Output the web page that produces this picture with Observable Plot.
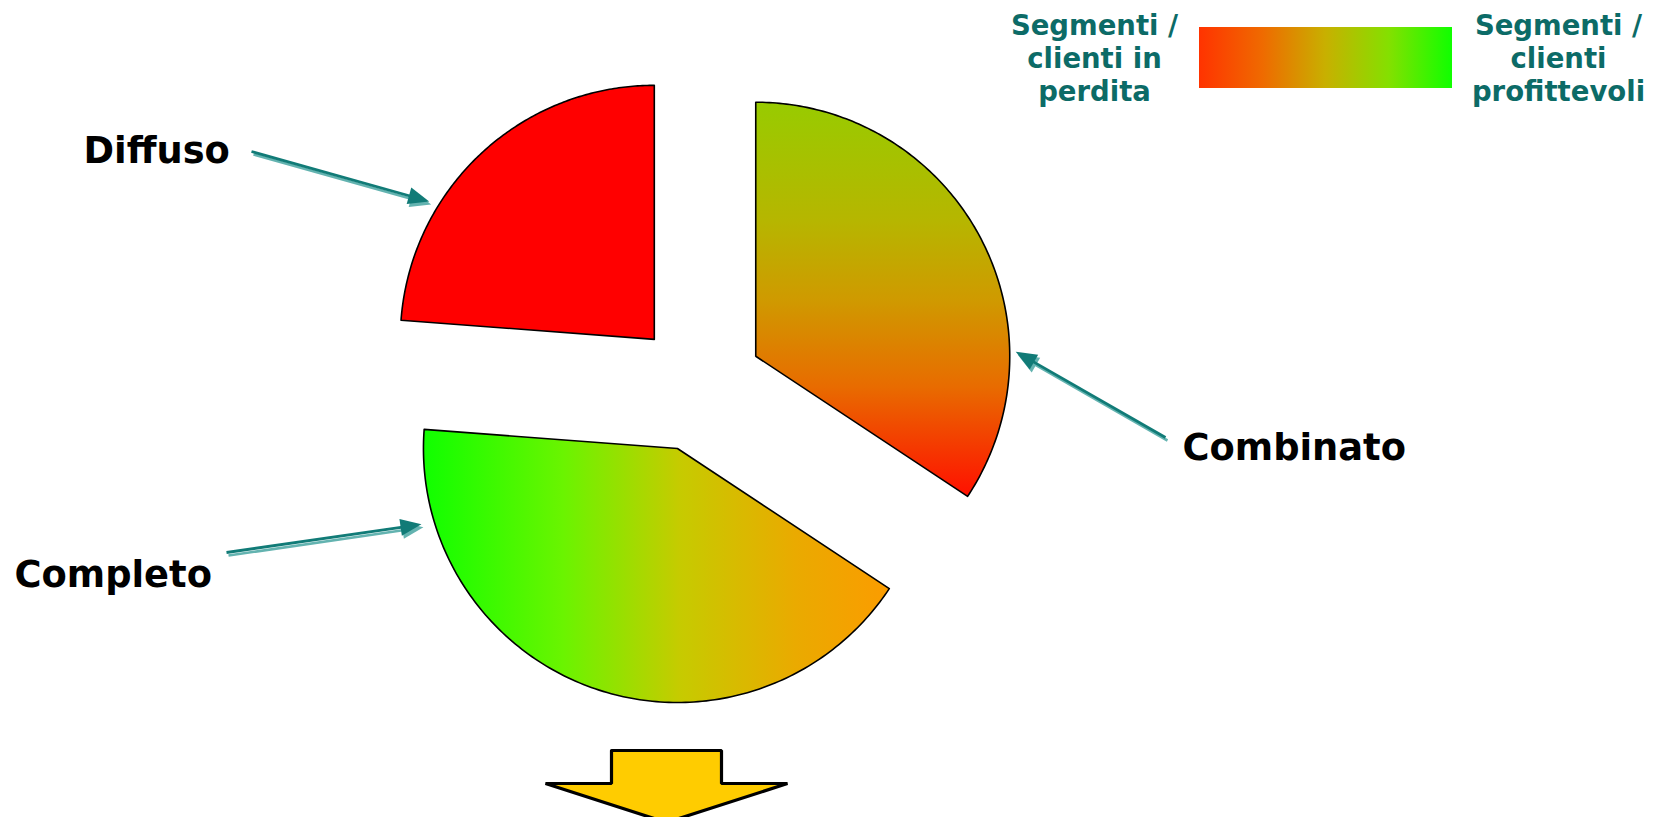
<!DOCTYPE html>
<html>
<head>
<meta charset="utf-8">
<script src="https://cdn.jsdelivr.net/npm/d3@7"></script>
<script src="https://cdn.jsdelivr.net/npm/@observablehq/plot@0.6"></script>
<style>
  html, body { margin: 0; padding: 0; background: #fff; overflow: hidden; }
</style>
</head>
<body>
<div id="chart"></div>
<script>
// Customer segments and their share of the pie (percent)
const segments = ["Combinato", "Completo", "Diffuso"];
const shares = [34.3, 41.9, 23.8];

// Legend captions at the two ends of the profitability scale
const legendLow = ["Segmenti /", "clienti in", "perdita"];
const legendHigh = ["Segmenti /", "clienti", "profittevoli"];

// ---- layout ----
const W = 1661, H = 817;
const cx = 698, cy = 386.5, R = 254, explode = 65;
const teal = "#0c6b67";
const rad = deg => deg * Math.PI / 180;

const fills = {
  Combinato: "url(#grad-combinato)",
  Completo: "url(#grad-completo)",
  Diffuso: "#ff0000"
};

// callout placement: where the arrow meets the slice rim, where it starts, where the label sits
const callouts = {
  Diffuso:   {angle: 301.5, gap: 10, tail: [251, 151], label: [83, 162]},
  Combinato: {angle: 89,    gap: 6,  tail: [1165, 437], label: [1182, 459]},
  Completo:  {angle: 253.5, gap: 13, tail: [226, 552], label: [14, 586]}
};

// exploded pie slices as polygons in pixel space
const arcs = d3.pie().sort(null).value(d => d.share)(
  segments.map((name, i) => ({name, share: shares[i]}))
);
const slices = arcs.map(a => {
  const mid = (a.startAngle + a.endAngle) / 2;
  const ox = cx + explode * Math.sin(mid);
  const oy = cy - explode * Math.cos(mid);
  const pts = [{x: ox, y: oy}];
  const n = 160;
  for (let k = 0; k <= n; k++) {
    const t = a.startAngle + (a.endAngle - a.startAngle) * k / n;
    pts.push({x: ox + R * Math.sin(t), y: oy - R * Math.cos(t)});
  }
  pts.push({x: ox, y: oy});
  return {name: a.data.name, ox, oy, pts};
});

// arrows from labels to slice rims (a pale shadow layer under a dark one)
const shafts = [], heads = [];
slices.forEach(s => {
  const c = callouts[s.name];
  const a = rad(c.angle);
  const tip = [s.ox + (R + c.gap) * Math.sin(a), s.oy - (R + c.gap) * Math.cos(a)];
  const [tx, ty] = c.tail;
  const len = Math.hypot(tip[0] - tx, tip[1] - ty);
  const ux = (tip[0] - tx) / len, uy = (tip[1] - ty) / len;
  const hl = 21, hw = 8.5;
  const bx = tip[0] - hl * ux, by = tip[1] - hl * uy;
  [[2, 3, "#63b3b0"], [0, 0, "#117b77"]].forEach(([dx, dy, color], layer) => {
    shafts.push({x1: tx + dx, y1: ty + dy, x2: bx + 2 * ux + dx, y2: by + 2 * uy + dy, color, layer});
    const id = s.name + layer;
    heads.push({id, color, layer, x: tip[0] + dx, y: tip[1] + dy});
    heads.push({id, color, layer, x: bx - uy * hw + dx, y: by + ux * hw + dy});
    heads.push({id, color, layer, x: bx + uy * hw + dx, y: by - ux * hw + dy});
  });
});

// downward block arrow under the pie
const ax = 666, aTop = 750, aNeck = 783, aTip = 822, shaftHalf = 55, wingHalf = 121;
const blockArrow = [
  [ax - shaftHalf, aTop], [ax + shaftHalf, aTop], [ax + shaftHalf, aNeck],
  [ax + wingHalf, aNeck], [ax, aTip], [ax - wingHalf, aNeck],
  [ax - shaftHalf, aNeck], [ax - shaftHalf, aTop]
].map(([x, y]) => ({x, y}));

const labelFont = {fontFamily: "DejaVu Sans, Verdana, sans-serif", fontWeight: "bold"};

const slicesMarks = slices.map(s =>
  Plot.line(s.pts, {x: "x", y: "y", fill: fills[s.name], stroke: "#000", strokeWidth: 1.6, strokeLinejoin: "round"})
);

const chart = Plot.plot({
  width: W,
  height: H,
  margin: 0,
  x: {domain: [0, W], range: [0, W], axis: null},
  y: {domain: [0, H], range: [0, H], axis: null},
  style: {background: "#fff", overflow: "hidden"},
  marks: [
    ...slicesMarks,
    // callout arrows
    Plot.link(shafts.filter(d => d.layer === 0), {x1: "x1", y1: "y1", x2: "x2", y2: "y2", stroke: "#63b3b0", strokeWidth: 2.6}),
    Plot.line(heads.filter(d => d.layer === 0), {x: "x", y: "y", z: "id", fill: "#63b3b0", stroke: "none"}),
    Plot.link(shafts.filter(d => d.layer === 1), {x1: "x1", y1: "y1", x2: "x2", y2: "y2", stroke: "#117b77", strokeWidth: 2.8}),
    Plot.line(heads.filter(d => d.layer === 1), {x: "x", y: "y", z: "id", fill: "#117b77", stroke: "none"}),
    // segment labels
    Plot.text(segments, {
      x: d => callouts[d].label[0],
      y: d => callouts[d].label[1],
      text: d => d,
      textAnchor: "start",
      lineAnchor: "bottom",
      fontSize: 36.8,
      fill: "#000",
      ...labelFont
    }),
    // profitability legend
    Plot.rect([{x1: 1199, x2: 1452, y1: 27, y2: 88}], {x1: "x1", x2: "x2", y1: "y1", y2: "y2", fill: "url(#grad-legend)"}),
    Plot.text([
      {x: 1094, text: legendLow.join("\n")},
      {x: 1558, text: legendHigh.join("\n")}
    ], {
      x: "x",
      y: () => 11,
      text: "text",
      textAnchor: "middle",
      lineAnchor: "top",
      lineHeight: 1.2,
      fontSize: 27.5,
      fill: teal,
      ...labelFont
    }),
    // outcome arrow
    Plot.line(blockArrow, {x: "x", y: "y", fill: "#ffcc00", stroke: "#000", strokeWidth: 3.2, strokeLinejoin: "miter"})
  ]
});

// gradient fills referenced by the slices and the legend bar
const defs = d3.select(chart).insert("defs", ":first-child");
function gradient(id, vertical, stops) {
  const g = defs.append("linearGradient").attr("id", id)
    .attr("x1", 0).attr("y1", 0)
    .attr("x2", vertical ? 0 : 1).attr("y2", vertical ? 1 : 0);
  stops.forEach(([o, c]) => g.append("stop").attr("offset", o).attr("stop-color", c));
}
gradient("grad-combinato", true, [[0, "#98cb00"], [0.3, "#b6b600"], [0.5, "#cf9a00"], [0.72, "#e86c00"], [1, "#ff1000"]]);
gradient("grad-completo", false, [[0, "#10ff00"], [0.3, "#6af400"], [0.55, "#c6cb00"], [0.8, "#eaaa00"], [1, "#fb9c00"]]);
gradient("grad-legend", false, [[0, "#ff3300"], [0.25, "#ef6a00"], [0.5, "#c8b000"], [0.75, "#84e000"], [1, "#10ff00"]]);

document.getElementById("chart").append(chart);
</script>
</body>
</html>
